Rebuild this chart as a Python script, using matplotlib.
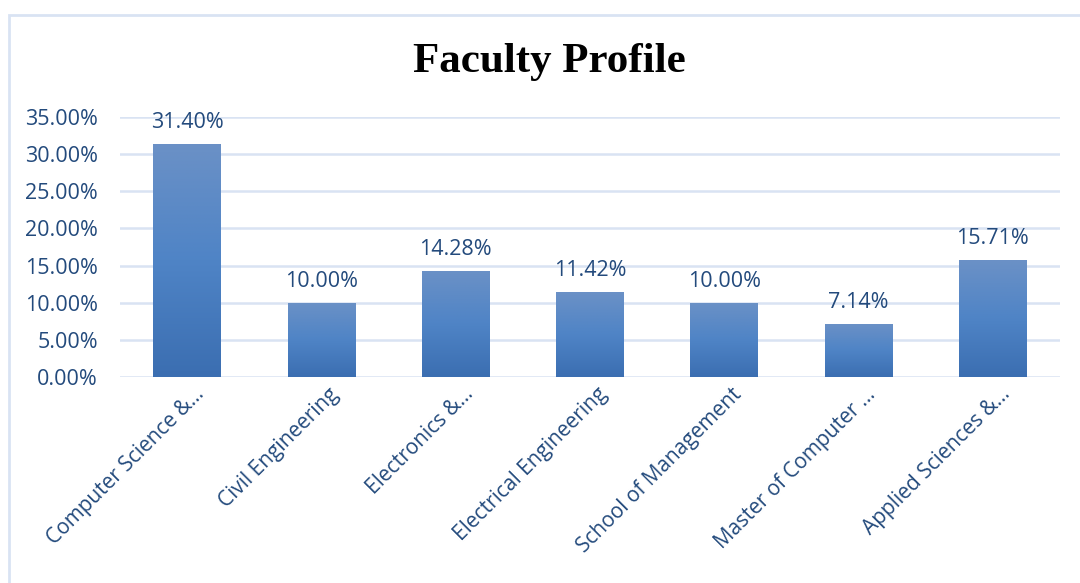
import matplotlib
matplotlib.use("Agg")
import matplotlib.pyplot as plt
import numpy as np
from matplotlib.patches import Rectangle
from matplotlib.ticker import FuncFormatter
from matplotlib.colors import LinearSegmentedColormap
from matplotlib.transforms import ScaledTranslation

categories = ["Computer Science &…", "Civil Engineering", "Electronics &…",
              "Electrical Engineering", "School of Management",
              "Master of Computer …", "Applied Sciences &…"]
values = [31.40, 10.00, 14.28, 11.42, 10.00, 7.14, 15.71]
yticks = [0, 5, 10, 15, 20, 25, 30, 35]
title = "Faculty Profile"

text_color = "#234a7c"
grid_color = "#d9e3f3"

fig = plt.figure(figsize=(10.8, 5.83), dpi=100)
fig.patch.set_facecolor("white")

# outer border (partially clipped on right/bottom)
fig.patches.append(Rectangle((9/1080, -0.1), 1.2, 1 - 15/583 + 0.1,
                             transform=fig.transFigure, fill=False,
                             edgecolor=grid_color, linewidth=2))

ax = fig.add_axes([120/1080, 1 - 377/583, 940/1080, 260/583])
x = np.arange(len(categories))
bars = ax.bar(x, values, width=0.505, color="#5082c4", zorder=2)

cmap = LinearSegmentedColormap.from_list("g", ["#3b6eb1", "#4f84c6", "#6b91c6"])
grad = np.linspace(0, 1, 256).reshape(-1, 1)
for b in bars:
    x0, y0, w, h = b.get_x(), b.get_y(), b.get_width(), b.get_height()
    im = ax.imshow(grad, extent=[x0, x0 + w, y0, y0 + h], origin="lower",
                   cmap=cmap, aspect="auto", zorder=3)
    im.set_clip_path(b)

for xi, v in zip(x, values):
    ax.annotate(f"{v:.2f}%", (xi, v), xytext=(0, 8), textcoords="offset points",
                ha="center", va="bottom", fontsize=15.5, color=text_color,
                family="Open Sans")

ax.set_xlim(-0.5, len(categories) - 0.5)
ax.set_ylim(0, 35)
ax.set_yticks(yticks)
ax.yaxis.set_major_formatter(FuncFormatter(lambda v, p: f"{v:.2f}%"))
ax.grid(axis="y", color=grid_color, linewidth=1.8, zorder=0)
ax.set_axisbelow(True)
for s in ax.spines.values():
    s.set_visible(False)
ax.tick_params(axis="both", length=0, labelcolor=text_color)
ax.tick_params(axis="y", pad=16)
for lab in ax.get_yticklabels():
    lab.set_family("Open Sans")
    lab.set_fontsize(15.5)

ax.set_xticks(x)
ax.set_xticklabels(categories, rotation=45, ha="right", va="top",
                   rotation_mode="anchor", family="Open Sans", fontsize=15,
                   color=text_color)
ax.tick_params(axis="x", pad=5)
offset = ScaledTranslation(5/72, 0, fig.dpi_scale_trans)
for lab in ax.get_xticklabels():
    lab.set_transform(lab.get_transform() + offset)

fig.text(549/1080, 1 - 62/583, title, ha="center", va="center",
         family="Liberation Serif", fontweight="bold", fontsize=31, color="black")

fig.savefig("out.png", dpi=100)
